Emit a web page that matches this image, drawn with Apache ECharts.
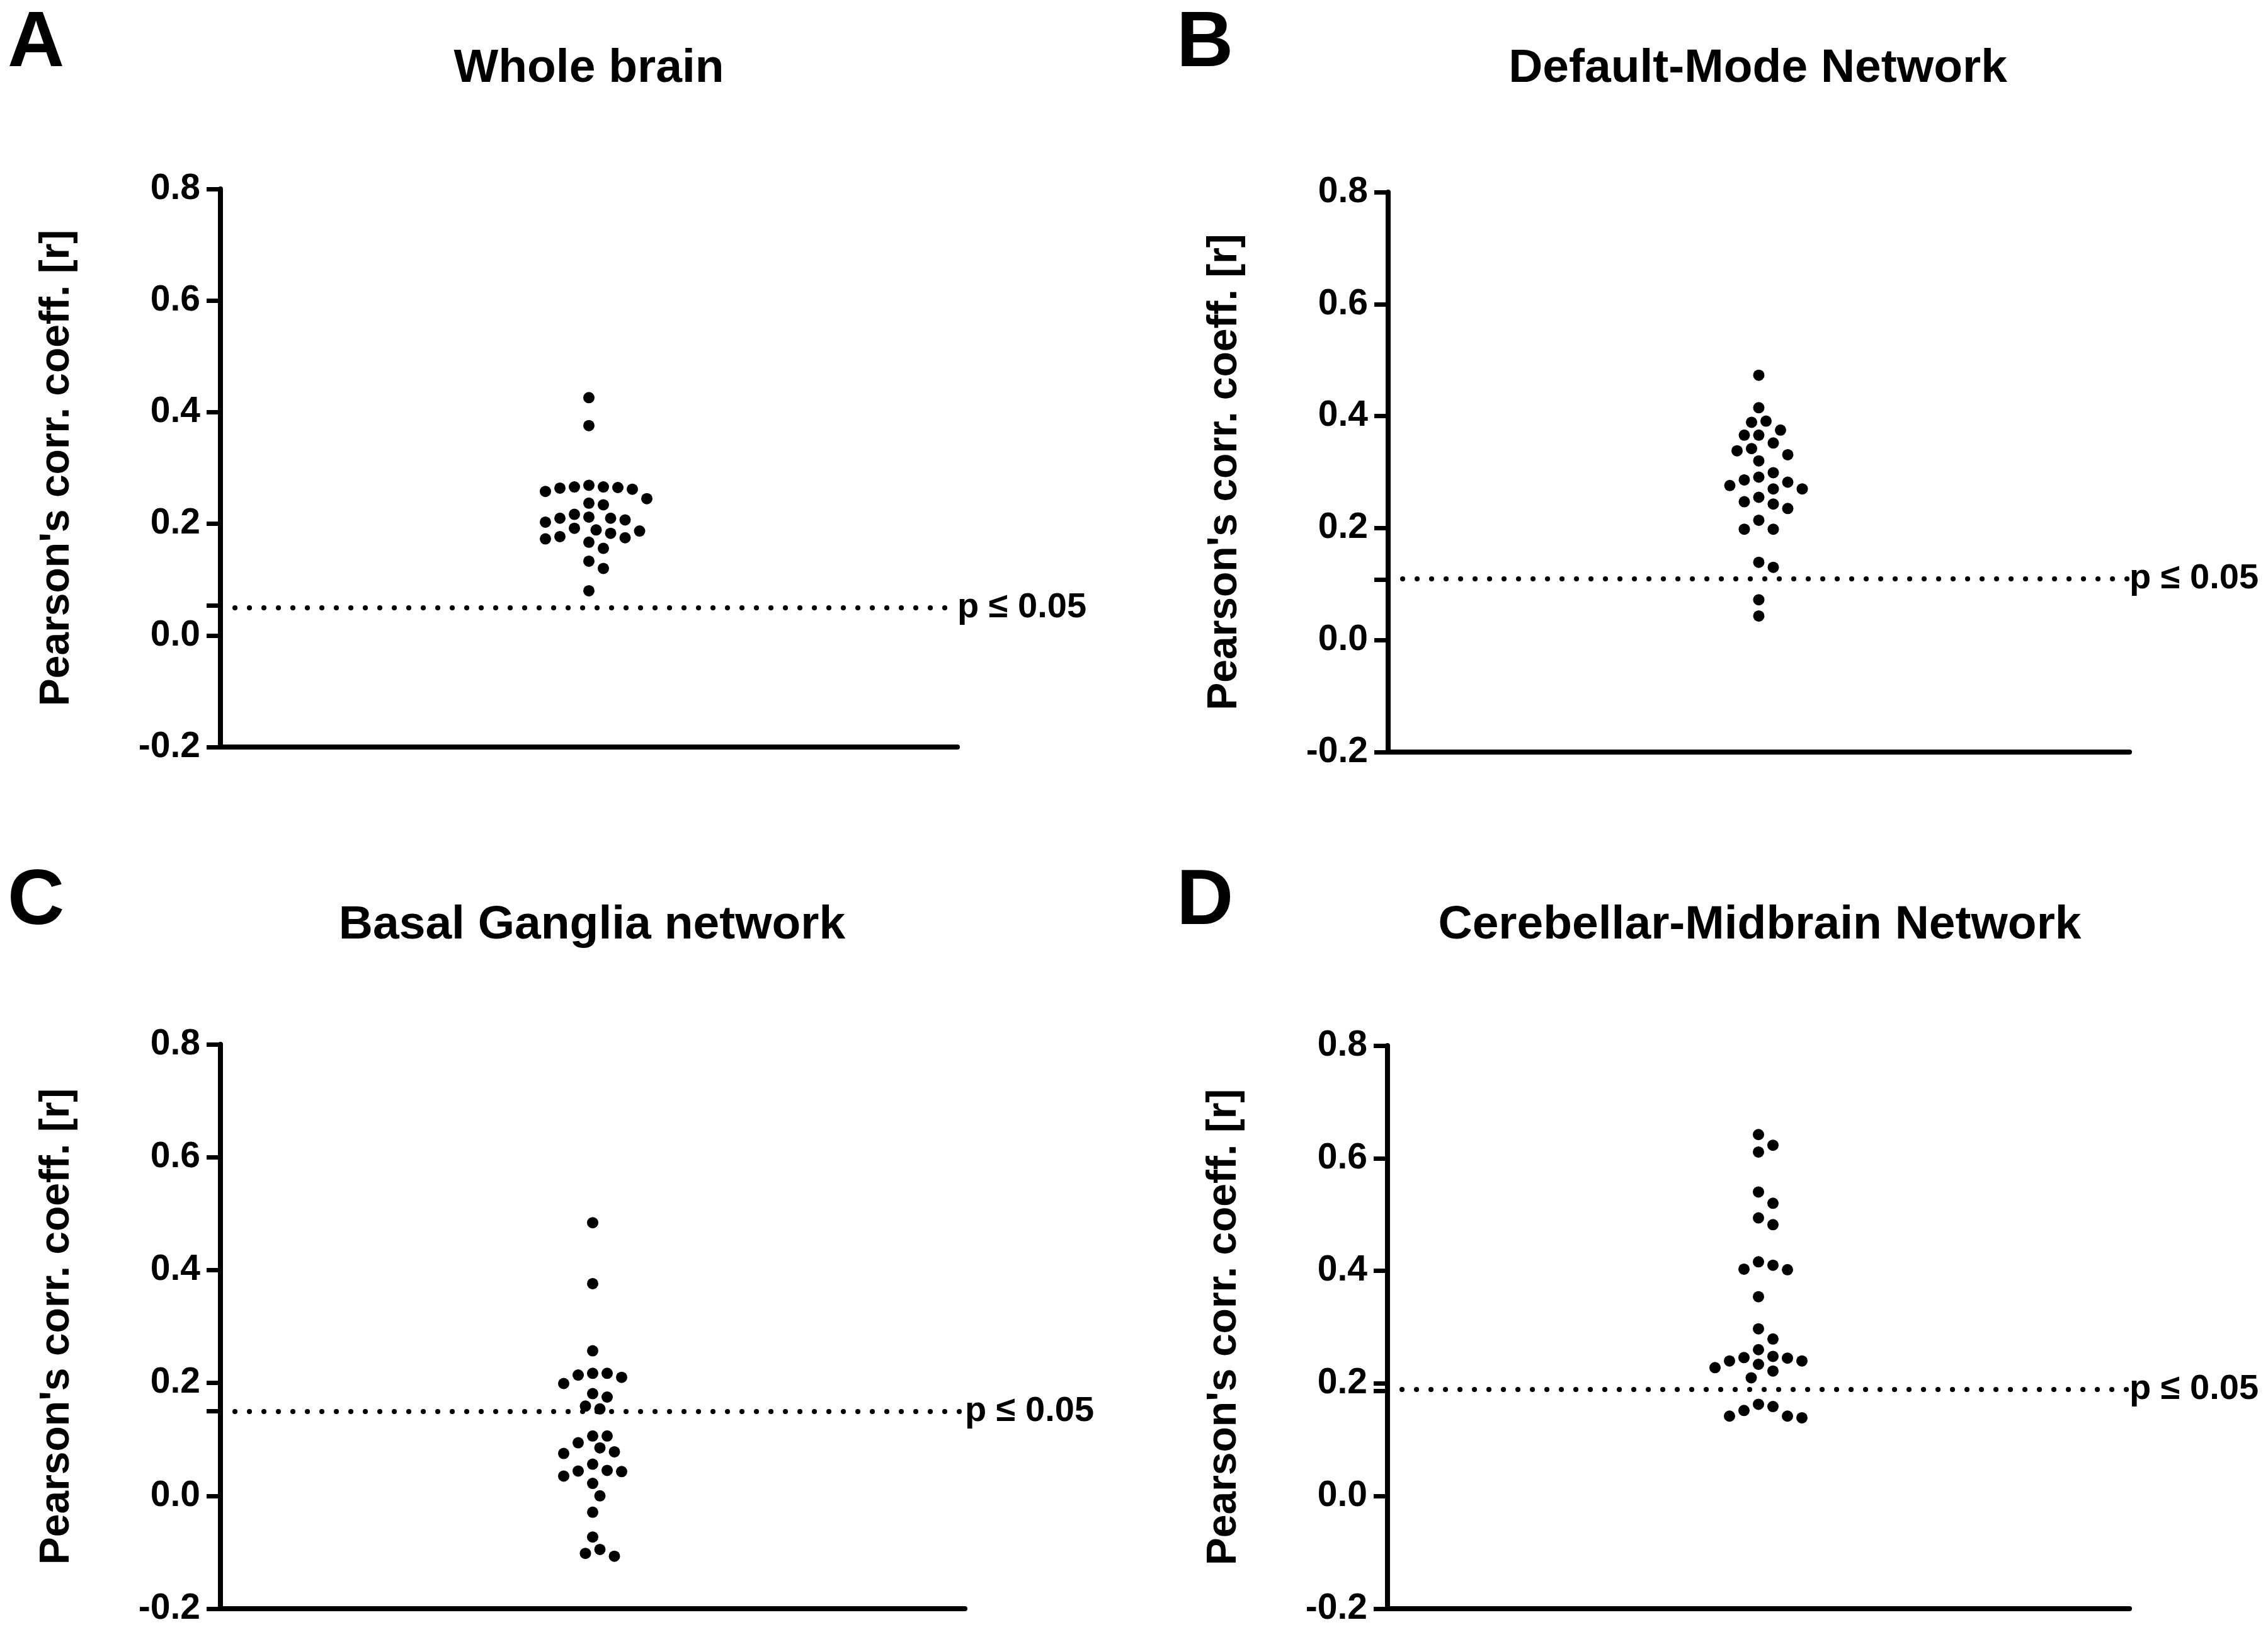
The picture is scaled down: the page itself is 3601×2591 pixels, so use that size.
<!DOCTYPE html>
<html>
<head>
<meta charset="utf-8">
<title>Pearson correlation per network</title>
<script src="https://cdn.jsdelivr.net/npm/echarts@6/dist/echarts.min.js"></script>
<style>
    html, body { margin: 0; padding: 0; background: #fff; }
    #main { width: 3601px; height: 2591px; }
</style>
</head>
<body>
<div id="main"></div>
<script>
// panel texts
var panelLetters = ['A', 'B', 'C', 'D'];
var panelTitles = ['Whole brain', 'Default-Mode Network', 'Basal Ganglia network', 'Cerebellar-Midbrain Network'];
var yTitle = "Pearson's corr. coeff. [r]";
var pLabel = 'p \u2264 0.05';
var yTicks = [-0.2, 0.0, 0.2, 0.4, 0.6, 0.8];

// r values per subject
var wholeBrain = [0.426, 0.376, 0.269, 0.266, 0.264, 0.258, 0.262, 0.265, 0.266, 0.245,
    0.237, 0.234, 0.217, 0.212, 0.210, 0.203, 0.207, 0.210, 0.189, 0.187,
    0.192, 0.183, 0.175, 0.177, 0.173, 0.167, 0.156, 0.133, 0.120, 0.080];
var defaultMode = [0.473, 0.415, 0.391, 0.389, 0.375, 0.366, 0.366, 0.352, 0.338, 0.342,
    0.331, 0.320, 0.299, 0.291, 0.286, 0.282, 0.276, 0.270, 0.270, 0.255,
    0.247, 0.243, 0.235, 0.214, 0.198, 0.198, 0.139, 0.130, 0.072, 0.043];
var basalGanglia = [0.484, 0.376, 0.257, 0.217, 0.214, 0.210, 0.217, 0.199, 0.181, 0.175,
    0.159, 0.154, 0.106, 0.106, 0.094, 0.085, 0.078, 0.075, 0.056, 0.044,
    0.043, 0.045, 0.035, 0.022, 0.000, -0.029, -0.073, -0.095, -0.102, -0.107];
var cerebellar = [0.642, 0.623, 0.611, 0.540, 0.520, 0.494, 0.482, 0.416, 0.403, 0.402,
    0.410, 0.354, 0.297, 0.279, 0.260, 0.248, 0.245, 0.240, 0.240, 0.246,
    0.234, 0.228, 0.222, 0.210, 0.159, 0.163, 0.142, 0.139, 0.142, 0.152];

// r threshold for p <= 0.05 in each panel
var pThreshold = [0.054, 0.108, 0.150, 0.187];

var panelValues = [wholeBrain, defaultMode, basalGanglia, cerebellar];

// layout
var grids = [
    {left: 350, top: 300, width: 1170, height: 886},
    {left: 2204, top: 305, width: 1177, height: 889},
    {left: 350, top: 1658, width: 1182, height: 896},
    {left: 2203, top: 1660, width: 1178, height: 894}
];
var titlePos = [[935, 72], [2791, 72], [940, 1432], [2794, 1432]];
var letterPos = [[12, 8], [1868, 8], [12, 1370], [1868, 1370]];

var FONT = "'Liberation Sans', Arial, Helvetica, sans-serif";
var DOT = 18;       // symbol size
var STEP = 11.5;    // half spacing between neighbours in the swarm
var MIN_DIST = 22;  // min distance between dot centres

var myChart = echarts.init(document.getElementById('main'));

var titles = [];
var xAxes = [];
var yAxes = [];
var series = [];

for (var i = 0; i < 4; i++) {
    titles.push({
        text: panelTitles[i],
        left: titlePos[i][0],
        top: titlePos[i][1],
        textAlign: 'center',
        padding: 0,
        textStyle: {fontFamily: FONT, fontWeight: 'bold', fontSize: 75, color: '#000'}
    });
    titles.push({
        text: panelLetters[i],
        left: letterPos[i][0],
        top: letterPos[i][1],
        padding: 0,
        textStyle: {fontFamily: FONT, fontWeight: 'bold', fontSize: 125, color: '#000'}
    });
    xAxes.push({
        type: 'value',
        gridIndex: i,
        min: -1,
        max: 1,
        axisLine: {show: true, onZero: false, lineStyle: {color: '#000', width: 8}},
        axisTick: {show: false},
        axisLabel: {show: false},
        splitLine: {show: false}
    });
    yAxes.push({
        type: 'value',
        gridIndex: i,
        min: -0.2,
        max: 0.8,
        interval: 0.2,
        name: yTitle,
        nameLocation: 'middle',
        nameRotate: 90,
        nameGap: 226,
        nameTextStyle: {fontFamily: FONT, fontWeight: 'bold', fontSize: 66, color: '#000'},
        axisLine: {show: true, onZero: false, lineStyle: {color: '#000', width: 8}},
        axisTick: {
            show: true,
            length: 22,
            customValues: yTicks.concat([pThreshold[i]]),
            lineStyle: {color: '#000', width: 7}
        },
        axisLabel: {
            customValues: yTicks,
            margin: 32,
            fontFamily: FONT,
            fontWeight: 'bold',
            fontSize: 57,
            color: '#000',
            formatter: function (v) { return v.toFixed(1); }
        },
        splitLine: {show: false}
    });
    series.push({
        type: 'scatter',
        xAxisIndex: i,
        yAxisIndex: i,
        symbol: 'circle',
        symbolSize: DOT,
        itemStyle: {color: '#000', opacity: 1},
        silent: true,
        data: [],
        markLine: {
            silent: true,
            symbol: 'none',
            animation: false,
            lineStyle: {color: '#000', width: 8, type: [0.1, 22.9], cap: 'round', opacity: 1},
            label: {
                show: true,
                position: 'end',
                distance: 0,
                formatter: pLabel,
                fontFamily: FONT,
                fontWeight: 'bold',
                fontSize: 56,
                color: '#000'
            },
            emphasis: {disabled: true},
            data: [{yAxis: pThreshold[i]}]
        }
    });
}

myChart.setOption({
    backgroundColor: '#fff',
    animation: false,
    title: titles,
    grid: grids,
    xAxis: xAxes,
    yAxis: yAxes,
    series: series
});

// spread dots sideways so they do not cover each other (beeswarm)
function swarm(values, gi) {
    var finder = {gridIndex: gi};
    var cx = myChart.convertToPixel(finder, [0, 0])[0];
    var order = values.map(function (v, k) { return k; })
        .sort(function (a, b) { return values[b] - values[a]; });
    var placed = [];
    var out = new Array(values.length);
    order.forEach(function (idx) {
        var py = myChart.convertToPixel(finder, [0, values[idx]])[1];
        var k = 0;
        var off = 0;
        while (true) {
            off = k === 0 ? 0 : Math.ceil(k / 2) * STEP * (k % 2 ? 1 : -1);
            var ok = placed.every(function (p) {
                var dx = p[0] - off, dy = p[1] - py;
                return dx * dx + dy * dy >= MIN_DIST * MIN_DIST;
            });
            if (ok) break;
            k++;
        }
        placed.push([off, py]);
        var xv = myChart.convertFromPixel(finder, [cx + off, py])[0];
        out[idx] = [xv, values[idx]];
    });
    return out;
}

myChart.setOption({
    series: panelValues.map(function (vals, gi) {
        return {data: swarm(vals, gi)};
    })
});
</script>
</body>
</html>
